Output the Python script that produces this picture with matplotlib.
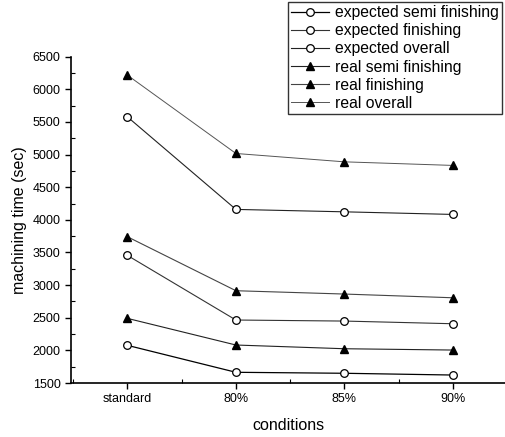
import matplotlib
matplotlib.use("Agg")
import matplotlib.pyplot as plt
from matplotlib.ticker import MultipleLocator

plt.rcParams['font.family'] = ['Liberation Sans', 'DejaVu Sans']

conditions = ["standard", "80%", "85%", "90%"]
expected_semi = [2077, 1664, 1649, 1622]
real_semi = [2490, 2082, 2025, 2005]
expected_finishing = [3455, 2465, 2449, 2408]
real_finishing = [3741, 2914, 2863, 2806]
expected_overall = [5578, 4160, 4123, 4083]
real_overall = [6217, 5017, 4889, 4834]

fig = plt.figure(figsize=(5.05, 4.37), dpi=100)
ax = fig.add_axes([71/505, 54/437, 434/505, 326.3/437])
x = list(range(len(conditions)))

circ = dict(marker='o', markerfacecolor='white', markeredgecolor='black', markersize=5.5, markeredgewidth=0.9)
tri = dict(marker='^', markerfacecolor='black', markeredgecolor='black', markersize=6)

ax.plot(x, expected_semi, color='black', lw=0.9, ls='-', label='expected semi finishing', **circ)
ax.plot(x, expected_finishing, color='#333333', lw=0.8, ls='-', label='expected finishing', **circ)
ax.plot(x, expected_overall, color='#222222', lw=0.8, ls='-', label='expected overall', **circ)
ax.plot(x, real_semi, color='#222222', lw=0.8, ls='-', label='real semi finishing', **tri)
ax.plot(x, real_finishing, color='#444444', lw=0.8, ls='-', label='real finishing', **tri)
ax.plot(x, real_overall, color='#555555', lw=0.7, ls='-', label='real overall',
        marker='^', markerfacecolor='black', markeredgecolor='black', markersize=5.5)

ax.set_xlim(-0.52, 3.48)
ax.set_ylim(1500, 6500)
ax.set_xticks(x)
ax.set_xticklabels(conditions)
ax.yaxis.set_major_locator(MultipleLocator(500))
ax.yaxis.set_minor_locator(MultipleLocator(250))
ax.xaxis.set_minor_locator(MultipleLocator(0.5))
ax.tick_params(axis='both', which='major', direction='out', length=4, width=1, labelsize=9)
ax.tick_params(axis='both', which='minor', direction='in', length=3, width=0.8)
ax.spines['top'].set_visible(False)
ax.spines['right'].set_visible(False)
ax.spines['left'].set_linewidth(1.2)
ax.spines['bottom'].set_linewidth(1.2)

ax.set_xlabel('conditions', fontsize=11.5, labelpad=9)
ax.set_ylabel('machining time (sec)', fontsize=11.5, labelpad=4)

leg = ax.legend(loc='upper right', bbox_to_anchor=(502/505, 435/437), bbox_transform=fig.transFigure,
                fontsize=11.3, frameon=True, fancybox=False, edgecolor='black',
                borderpad=0.2, labelspacing=0.2, handlelength=2.4, handletextpad=0.4,
                borderaxespad=0)
leg.get_frame().set_linewidth(1.0)
for h in leg.legend_handles:
    h.set_markersize(5.5)

fig.savefig('out.png', dpi=100)
